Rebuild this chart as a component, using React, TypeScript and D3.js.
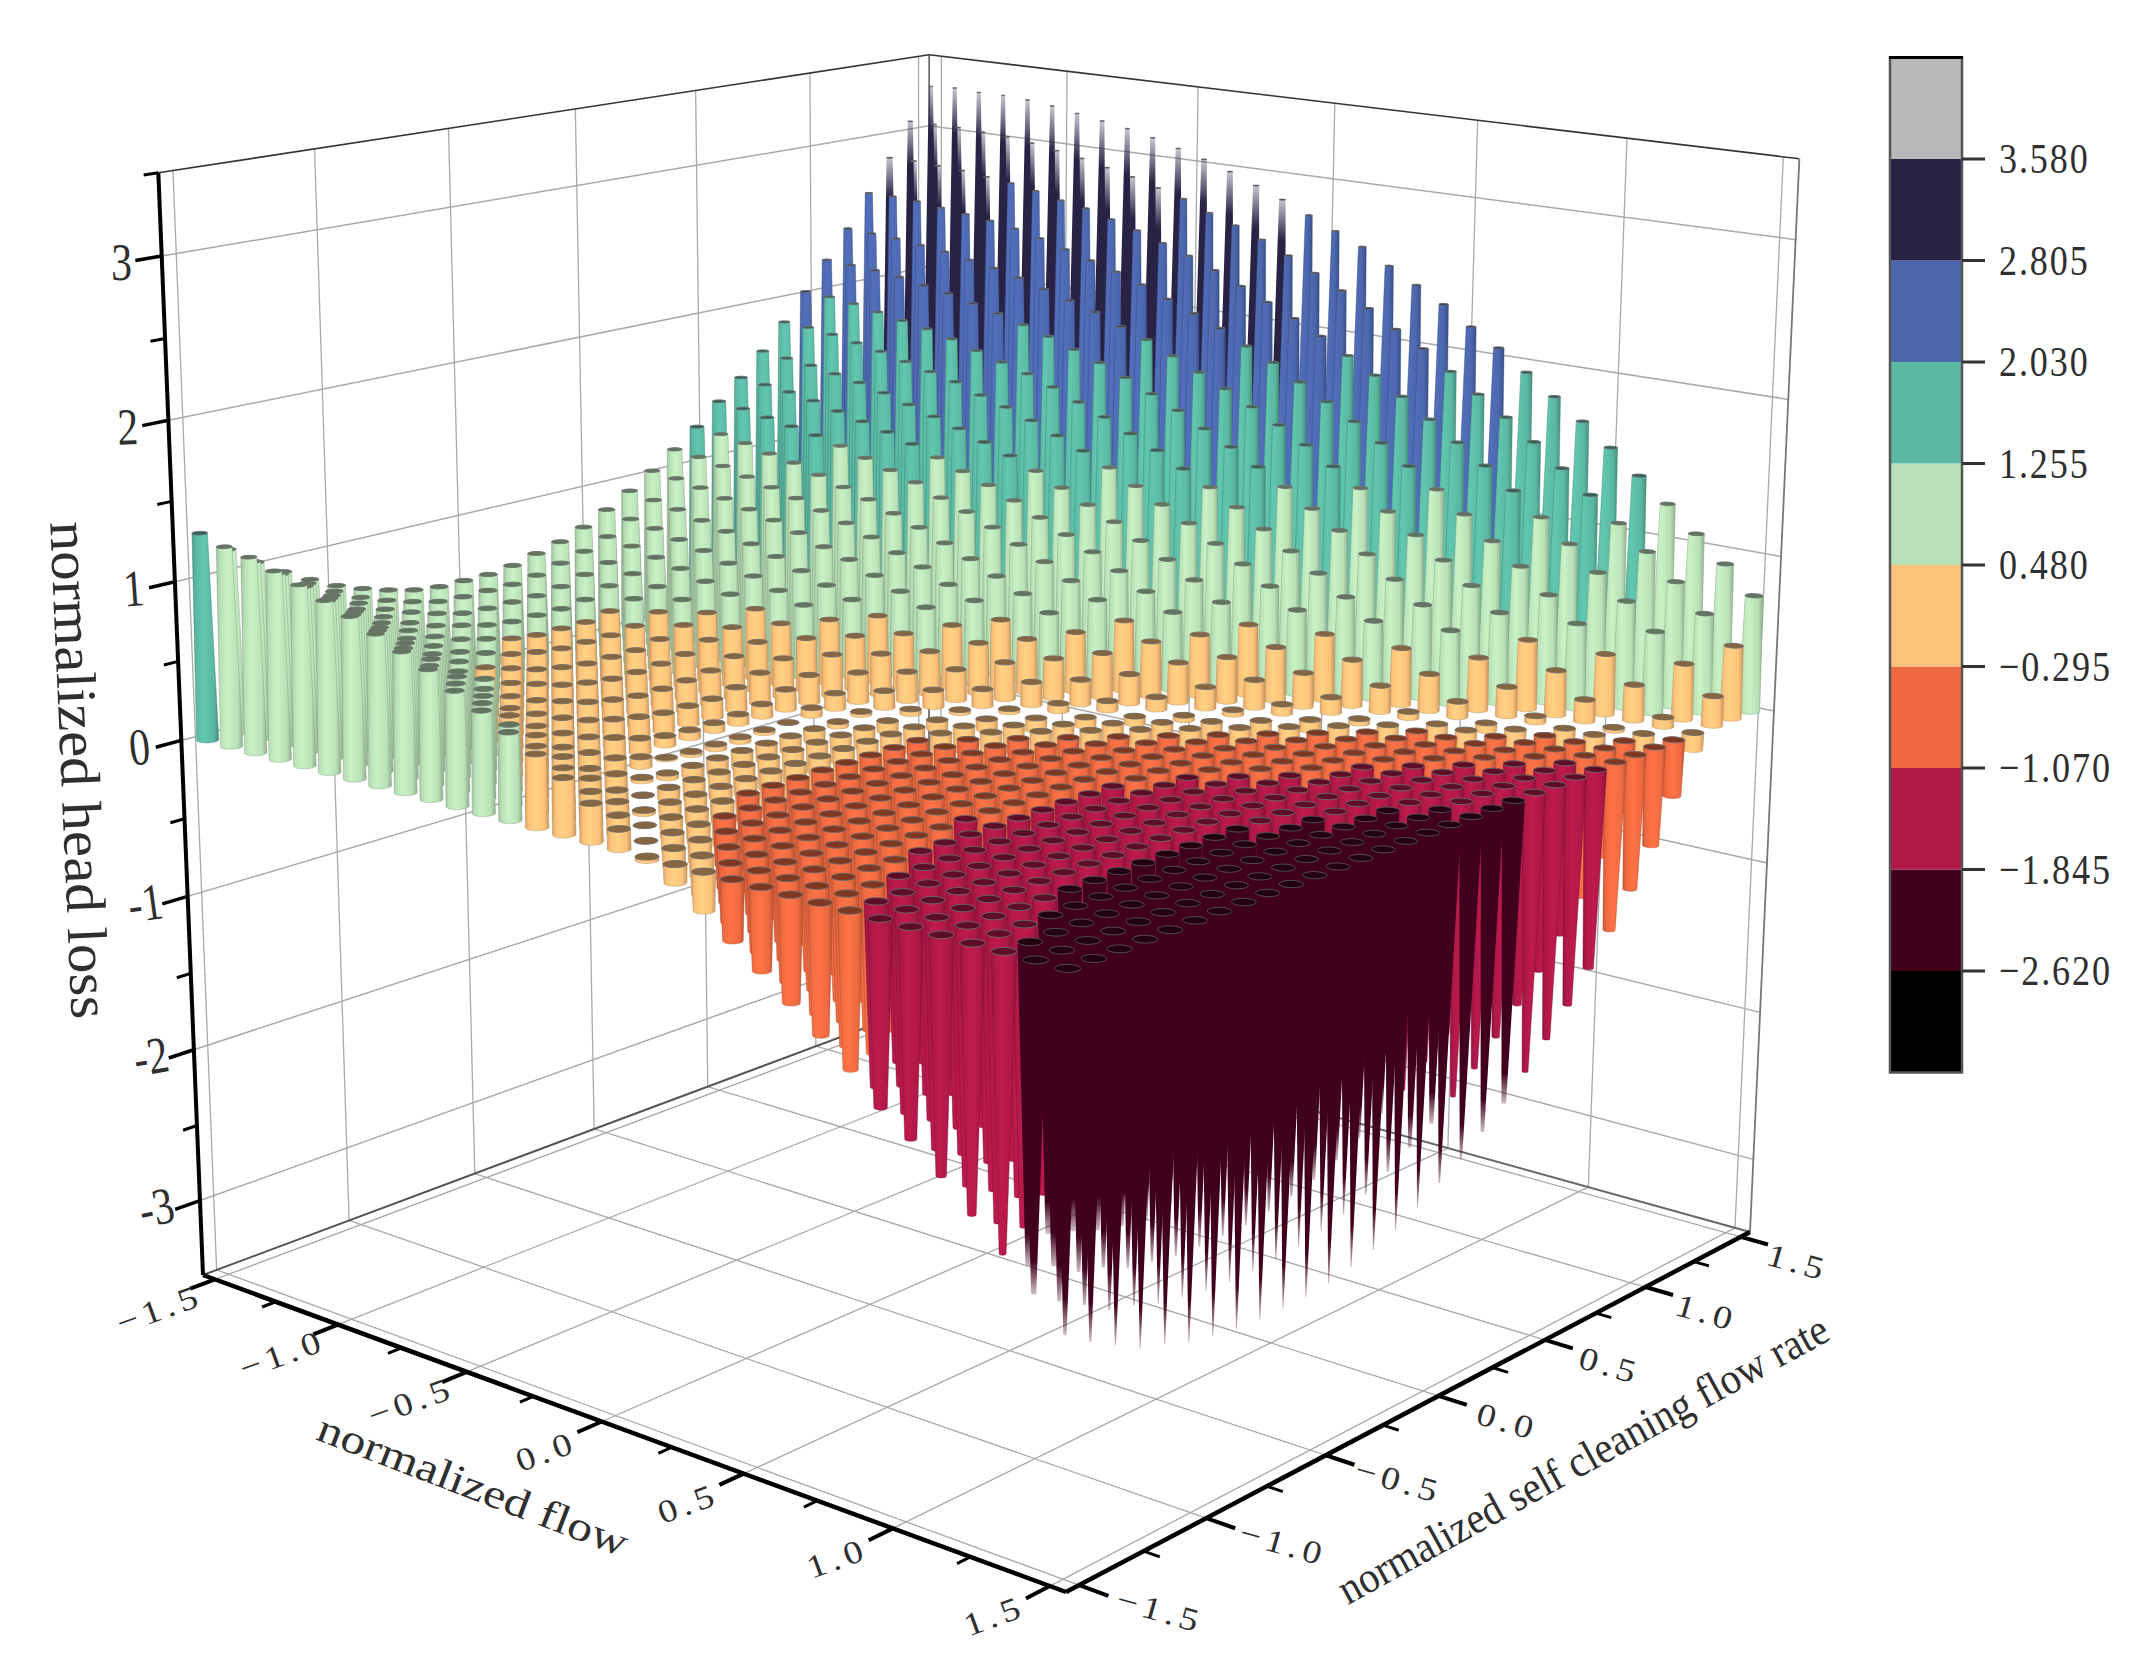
import React, { useEffect, useRef } from 'react';
import * as d3 from 'd3';

const contourLevels = [-2.62, -1.845, -1.07, -0.295, 0.48, 1.255, 2.03, 2.805, 3.58];
const contourLabels = ['−2.620', '−1.845', '−1.070', '−0.295', '0.480', '1.255', '2.030', '2.805', '3.580'];
const contourColors = ['#000000', '#40001c', '#b01848', '#ef6a41', '#fdc27a', '#b9e0b6', '#5ab8a3', '#4c67ae', '#292245', '#b9b9b9'];
const flowTicks = [-1.5, -1, -0.5, 0, 0.5, 1, 1.5];
const flowTickLabels = ['−1.5', '−1.0', '−0.5', '0.0', '0.5', '1.0', '1.5'];
const flowMinor = [-1.25, -0.75, -0.25, 0.25, 0.75, 1.25];
const lossTicks = [-3, -2, -1, 0, 1, 2, 3];
const lossTickLabels = ['-3', '-2', '-1', '0', '1', '2', '3'];
const lossMinor = [-2.5, -1.5, -0.5, 0.5, 1.5, 2.5, 3.5];

// head loss, one row per self cleaning flow step (-1.5 .. 1.5), one value per flow step (-1.5 .. 1.5)
const headLoss = [
  [1.30,1.25,1.22,1.17,1.12,1.06,1.00,.93,.86,.79,.70,.62,.53,.44,.34,.23,.12,-.02,-.11,-.23,-.36,-.49,-.63,-.77,-.92,-1.09,-1.22,-1.38,-1.55,-1.72,-1.89,-2.07],
  [1.16,1.12,1.08,1.03,.98,.93,.87,.80,.73,.66,.58,.49,.40,.31,.21,.11,.00,-.11,-.23,-.35,-.48,-.61,-.75,-.89,-1.08,-1.18,-1.34,-1.50,-1.66,-1.85,-2.00,-2.18],
  [1.04,1.00,.96,.92,.87,.81,.75,.69,.62,.54,.46,.38,.29,.20,.10,.00,-.11,-.22,-.33,-.46,-.58,-.71,-.85,-.99,-1.13,-1.28,-1.43,-1.59,-1.75,-1.92,-2.09,-2.27],
  [.94,.90,.86,.81,.76,.70,.64,.57,.50,.42,.35,.26,.17,.08,-.02,-.12,-.23,-.34,-.45,-.57,-.70,-.83,-.96,-1.10,-1.24,-1.39,-1.54,-1.69,-1.85,-2.02,-2.19,-2.36],
  [.85,.81,.77,.72,.67,.61,.55,.48,.41,.34,.26,.18,.09,.00,-.10,-.20,-.30,-.41,-.53,-.64,-.77,-.89,-1.02,-1.16,-1.30,-1.44,-1.59,-1.74,-1.90,-2.06,-2.23,-2.40],
  [.77,.73,.69,.64,.59,.53,.47,.41,.34,.27,.19,.10,.02,-.07,-.17,-.27,-.37,-.48,-.60,-.71,-.83,-.96,-1.09,-1.23,-1.36,-1.51,-1.66,-1.85,-1.96,-2.13,-2.29,-2.46],
  [.71,.67,.63,.58,.53,.48,.42,.36,.29,.21,.14,.06,-.03,-.12,-.22,-.31,-.42,-.52,-.64,-.75,-.87,-1.00,-1.13,-1.26,-1.40,-1.54,-1.69,-1.86,-2.00,-2.16,-2.32,-2.49],
  [.66,.62,.58,.54,.49,.43,.37,.31,.24,.17,.09,.01,-.07,-.16,-.26,-.36,-.46,-.56,-.68,-.79,-.91,-1.04,-1.16,-1.30,-1.44,-1.58,-1.72,-1.87,-2.03,-2.19,-2.35,-2.52],
  [.62,.58,.54,.50,.45,.40,.34,.28,.21,.14,.06,-.02,-.10,-.19,-.28,-.38,-.48,-.59,-.70,-.81,-.93,-1.08,-1.18,-1.32,-1.45,-1.59,-1.74,-1.89,-2.04,-2.20,-2.36,-2.53],
  [.60,.57,.53,.48,.43,.38,.32,.26,.19,.12,.05,-.03,-.11,-.20,-.29,-.39,-.49,-.60,-.71,-.82,-.94,-1.06,-1.19,-1.32,-1.46,-1.60,-1.74,-1.89,-2.04,-2.20,-2.36,-2.53],
  [.60,.57,.53,.48,.43,.38,.32,.26,.19,.12,.05,-.03,-.11,-.20,-.29,-.39,-.49,-.60,-.71,-.82,-.94,-1.06,-1.19,-1.32,-1.46,-1.60,-1.74,-1.89,-2.04,-2.20,-2.36,-2.53],
  [.60,.57,.53,.48,.43,.38,.32,.27,.20,.12,.06,-.02,-.10,-.19,-.28,-.38,-.48,-.59,-.70,-.81,-.93,-1.05,-1.17,-1.30,-1.44,-1.58,-1.72,-1.87,-2.02,-2.18,-2.34,-2.51],
  [.62,.59,.55,.50,.46,.40,.35,.29,.22,.15,.08,.00,-.08,-.17,-.26,-.36,-.46,-.56,-.67,-.78,-.90,-1.02,-1.15,-1.28,-1.41,-1.55,-1.70,-1.85,-2.00,-2.15,-2.31,-2.48],
  [.66,.63,.59,.55,.50,.45,.40,.34,.27,.20,.13,.05,-.03,-.12,-.21,-.30,-.40,-.51,-.62,-.73,-.85,-.97,-1.10,-1.23,-1.36,-1.50,-1.65,-1.80,-1.95,-2.11,-2.27,-2.44],
  [.70,.67,.63,.59,.54,.49,.44,.38,.32,.25,.18,.10,.02,-.07,-.16,-.25,-.35,-.46,-.57,-.68,-.80,-.92,-1.04,-1.17,-1.31,-1.45,-1.59,-1.74,-1.90,-2.05,-2.21,-2.38],
  [.76,.73,.70,.66,.62,.57,.52,.46,.40,.34,.27,.19,.11,.03,-.06,-.16,-.26,-.36,-.47,-.58,-.70,-.82,-.95,-1.08,-1.22,-1.36,-1.50,-1.65,-1.81,-1.97,-2.13,-2.30],
  [.84,.81,.78,.74,.70,.65,.60,.54,.48,.42,.35,.27,.19,.11,.02,-.07,-.17,-.28,-.38,-.50,-.61,-.73,-.86,-.99,-1.13,-1.27,-1.41,-1.56,-1.72,-1.88,-2.04,-2.21],
  [.93,.90,.87,.83,.79,.74,.69,.63,.57,.51,.44,.36,.28,.20,.11,.02,-.08,-.19,-.29,-.41,-.52,-.64,-.77,-.90,-1.04,-1.18,-1.32,-1.47,-1.63,-1.79,-1.95,-2.12],
  [1.03,1.01,.98,.94,.90,.86,.81,.75,.70,.63,.56,.49,.41,.33,.24,.15,.05,-.06,-.16,-.28,-.39,-.52,-.64,-.78,-.91,-1.06,-1.20,-1.36,-1.51,-1.67,-1.84,-2.01],
  [1.14,1.12,1.09,1.05,1.01,.97,.92,.87,.81,.74,.68,.60,.53,.44,.35,.26,.16,.06,-.05,-.16,-.28,-.40,-.52,-.66,-.79,-.94,-1.08,-1.23,-1.39,-1.55,-1.72,-1.89],
  [1.26,1.24,1.21,1.17,1.14,1.09,1.04,.99,.93,.87,.80,.73,.65,.57,.48,.39,.29,.19,.08,-.03,-.14,-.27,-.39,-.52,-.66,-.80,-.95,-1.10,-1.25,-1.41,-1.58,-1.75],
  [1.40,1.38,1.35,1.32,1.29,1.25,1.20,1.15,1.10,1.03,.97,.90,.82,.74,.65,.56,.46,.36,.26,.14,.03,-.10,-.22,-.35,-.50,-.64,-.79,-.94,-1.10,-1.26,-1.43,-1.60],
  [1.53,1.51,1.49,1.46,1.42,1.38,1.34,1.29,1.23,1.17,1.11,1.04,.96,.88,.80,.71,.61,.51,.40,.29,.18,.06,-.07,-.20,-.34,-.48,-.63,-.78,-.94,-1.10,-1.27,-1.44],
  [1.68,1.66,1.64,1.61,1.58,1.54,1.49,1.44,1.39,1.33,1.27,1.20,1.12,1.04,.96,.87,.78,.68,.57,.46,.35,.22,.10,-.03,-.17,-.31,-.46,-.61,-.76,-.92,-1.09,-1.26],
  [1.85,1.84,1.82,1.79,1.76,1.72,1.68,1.64,1.58,1.53,1.47,1.40,1.33,1.25,1.16,1.07,.98,.88,.78,.67,.55,.43,.30,.17,.04,-.11,-.25,-.41,-.57,-.73,-.90,-1.07],
  [2.03,2.02,2.00,1.97,1.94,1.91,1.87,1.82,1.77,1.72,1.66,1.59,1.52,1.44,1.36,1.27,1.18,1.08,.97,.86,.75,.63,.51,.37,.24,.10,-.05,-.20,-.36,-.52,-.69,-.86],
  [2.22,2.21,2.20,2.18,2.15,2.12,2.08,2.04,1.99,1.94,1.88,1.82,1.75,1.67,1.59,1.50,1.41,1.31,1.21,1.10,.99,.87,.74,.61,.48,.34,.19,.04,-.12,-.29,-.45,-.63],
  [2.41,2.40,2.39,2.37,2.35,2.32,2.29,2.25,2.20,2.15,2.10,2.03,1.97,1.89,1.81,1.73,1.64,1.55,1.45,1.34,1.23,1.11,.99,.86,.73,.59,.45,.29,.14,-.02,-.19,-.36],
  [2.63,2.63,2.62,2.60,2.58,2.56,2.53,2.49,2.44,2.39,2.34,2.28,2.21,2.14,2.07,1.98,1.90,1.80,1.70,1.60,1.49,1.37,1.25,1.12,.98,.85,.70,.55,.39,.23,.06,-.11],
  [2.85,2.85,2.84,2.83,2.81,2.79,2.76,2.72,2.69,2.64,2.59,2.53,2.47,2.40,2.32,2.24,2.16,2.07,1.97,1.87,1.76,1.64,1.52,1.40,1.27,1.13,.99,.84,.69,.53,.36,.19],
  [3.08,3.08,3.08,3.07,3.06,3.04,3.01,2.98,2.94,2.90,2.85,2.80,2.73,2.67,2.60,2.52,2.43,2.34,2.25,2.14,2.04,1.92,1.80,1.68,1.55,1.41,1.27,1.12,.97,.81,.64,.47],
  [3.30,3.31,3.30,3.30,3.29,3.27,3.24,3.21,3.18,3.14,3.09,3.04,2.98,2.91,2.84,2.76,2.68,2.60,2.50,2.40,2.30,2.18,2.07,1.94,1.81,1.68,1.54,1.39,1.24,1.08,.92,.75],
];

// where the box corners fall on the page
const floorCorners = [[203, 1275], [1066, 1592], [1750, 1232], [929, 1004]]; // left, front, right, back
const topCorners = [[159, 178], [928, 51], [1800, 158]]; // left, back, right
const boxXY = 1.55;
const boxZ = 3.5;
const barRadius = 0.03;
const serif = '"Liberation Serif", serif';
const inkColor = '#2f2f2f';

function makeProjection() {
  const [[x0, y0], [x1, y1], [x2, y2], [x3, y3]] = floorCorners;
  const dx1 = x1 - x2, dx2 = x3 - x2, sx = x0 - x1 + x2 - x3;
  const dy1 = y1 - y2, dy2 = y3 - y2, sy = y0 - y1 + y2 - y3;
  const den = dx1 * dy2 - dx2 * dy1;
  const g = (sx * dy2 - dx2 * sy) / den;
  const h = (dx1 * sy - sx * dy1) / den;
  const a = x1 - x0 + g * x1, b = x3 - x0 + h * x3, c = x0;
  const d = y1 - y0 + g * y1, e = y3 - y0 + h * y3, f = y0;
  const Dr = g + h + 1;
  const [tl, tb, tr] = topCorners;
  // vertical column of the camera matrix, from the three top corners
  const r = (x0 - x2 * Dr - tl[0] + tr[0] * Dr) / (tl[0] - tr[0]);
  const p = d3.mean([
    tl[0] * (1 + r) - x0,
    tb[0] * (h + 1 + r) - (b + c),
    tr[0] * (Dr + r) - (a + b + c),
  ])!;
  const q = d3.mean([
    tl[1] * (1 + r) - y0,
    tb[1] * (h + 1 + r) - (e + f),
    tr[1] * (Dr + r) - (d + e + f),
  ])!;
  const sScale = d3.scaleLinear().domain([-boxXY, boxXY]).range([0, 1]);
  const wScale = d3.scaleLinear().domain([-boxZ, boxZ]).range([0, 1]);
  return (x: number, y: number, z: number): [number, number] => {
    const s = sScale(x), t = sScale(y), w = wScale(z);
    const dn = g * s + h * t + 1 + r * w;
    return [(a * s + b * t + c + p * w) / dn, (d * s + e * t + f + q * w) / dn];
  };
}

export default function App() {
  const svgRef = useRef<SVGSVGElement>(null);

  useEffect(() => {
    if (!svgRef.current) return;
    const svg = d3.select(svgRef.current);
    svg.selectAll('*').remove();

    const project = makeProjection();
    const color = d3.scaleThreshold<number, string>().domain(contourLevels).range(contourColors);
    const gridStep = d3.scaleLinear().domain([0, headLoss.length - 1]).range([-1.5, 1.5]);

    // shading for the cylinders
    const defs = svg.append('defs');
    contourColors.forEach((c, k) => {
      const base = d3.color(c)!;
      const side = defs.append('linearGradient').attr('id', `side-${k}`);
      side.append('stop').attr('offset', 0).attr('stop-color', base.darker(0.45).formatHex());
      side.append('stop').attr('offset', 0.15).attr('stop-color', c);
      side.append('stop').attr('offset', 0.42).attr('stop-color', base.brighter(0.22).formatHex());
      side.append('stop').attr('offset', 0.8).attr('stop-color', c);
      side.append('stop').attr('offset', 1).attr('stop-color', base.darker(0.7).formatHex());
      const fade = defs.append('linearGradient').attr('id', `fade-${k}`).attr('x1', 0).attr('x2', 0).attr('y1', k < 5 ? 0 : 1).attr('y2', k < 5 ? 1 : 0);
      fade.append('stop').attr('offset', 0).attr('stop-color', c);
      fade.append('stop').attr('offset', 0.9).attr('stop-color', c);
      fade.append('stop').attr('offset', 1).attr('stop-color', c).attr('stop-opacity', 0.25);
    });

    const seg = (g: any, a: [number, number], b: [number, number], stroke: string, width: number) =>
      g.append('line').attr('x1', a[0]).attr('y1', a[1]).attr('x2', b[0]).attr('y2', b[1])
        .attr('stroke', stroke).attr('stroke-width', width);

    // walls and floor
    const grid = svg.append('g');
    const bz = boxZ, bx = boxXY;
    flowTicks.forEach(v => {
      seg(grid, project(-bx, v, -bz), project(-bx, v, bz), '#a9a9a9', 1.3);
      seg(grid, project(v, bx, -bz), project(v, bx, bz), '#a9a9a9', 1.3);
      seg(grid, project(-bx, v, -bz), project(bx, v, -bz), '#a9a9a9', 1.3);
      seg(grid, project(v, -bx, -bz), project(v, bx, -bz), '#a9a9a9', 1.3);
    });
    lossTicks.forEach(v => {
      seg(grid, project(-bx, -bx, v), project(-bx, bx, v), '#a9a9a9', 1.5);
      seg(grid, project(-bx, bx, v), project(bx, bx, v), '#a9a9a9', 1.5);
    });
    seg(grid, project(-bx, -bx, bz), project(-bx, bx, bz), '#333', 1.6);
    seg(grid, project(-bx, bx, bz), project(bx, bx, bz), '#333', 1.6);
    seg(grid, project(-bx, bx, -bz), project(-bx, bx, bz), '#444', 1.4);
    seg(grid, project(bx, bx, -bz), project(bx, bx, bz), '#777', 1.8);
    seg(grid, project(-bx, -bx, -bz), project(-bx, bx, -bz), '#555', 2);
    seg(grid, project(-bx, bx, -bz), project(bx, bx, -bz), '#666', 2);

    // one cylinder per grid point, far ones first
    const bars = headLoss
      .flatMap((row, j) => row.map((value, i) => ({ i, j, value, x: gridStep(i), y: gridStep(j) })))
      .sort((m, n) => (m.i - m.j) - (n.i - n.j));
    const angles = d3.range(18).map(k => (k / 18) * 2 * Math.PI);
    const ring = (x: number, y: number, z: number, rad: number) =>
      angles.map(t => project(x + rad * Math.cos(t), y + rad * Math.sin(t), z));
    const taper = (z: number) => Math.max(0.04, z > 0 ? 1 - 0.24 * z : 1 + 0.42 * z);
    const closed = d3.line().curve(d3.curveLinearClosed);

    const barLayer = svg.append('g');
    bars.forEach(bar => {
      const level = contourColors.indexOf(color(bar.value));
      const c = d3.color(contourColors[level])!;
      const end = ring(bar.x, bar.y, bar.value, barRadius * taper(bar.value));
      const zero = ring(bar.x, bar.y, 0, barRadius);
      const hull = d3.polygonHull([...end, ...zero])!;
      const fill = level <= 1 || level >= 8 ? `url(#fade-${level})` : `url(#side-${level})`;
      barLayer.append('path').attr('d', closed(hull)!).attr('fill', fill);
      if (level > 1 && level < 8) {
        barLayer.append('path').attr('d', closed(hull)!).attr('fill', 'none')
          .attr('stroke', c.darker(1).formatHex()).attr('stroke-width', 0.7).attr('stroke-opacity', 0.6);
      }
      barLayer.append('path')
        .attr('d', closed(bar.value > 0 ? end : zero)!)
        .attr('fill', c.darker(1.8).formatHex())
        .attr('stroke', level <= 1 ? '#555' : '#6d6d6d')
        .attr('stroke-width', 0.9);
    });

    // axes
    const axes = svg.append('g');
    seg(axes, project(-bx, -bx, -bz), project(-bx, -bx, bz), '#000', 4);
    seg(axes, project(-bx, -bx, -bz), project(bx, -bx, -bz), '#000', 4.5);
    seg(axes, project(bx, -bx, -bz), project(bx, bx, -bz), '#000', 4.5);
    flowTicks.forEach(v => {
      seg(axes, project(v, -bx, -bz), project(v, -bx - 0.09, -bz), '#000', 4);
      seg(axes, project(bx, v, -bz), project(bx + 0.09, v, -bz), '#000', 4);
    });
    flowMinor.forEach(v => {
      seg(axes, project(v, -bx, -bz), project(v, -bx - 0.05, -bz), '#000', 3);
      seg(axes, project(bx, v, -bz), project(bx + 0.05, v, -bz), '#000', 3);
    });
    lossTicks.forEach(v => seg(axes, project(-bx, -bx, v), project(-bx, -bx - 0.09, v), '#000', 3.5));
    lossMinor.forEach(v => seg(axes, project(-bx, -bx, v), project(-bx, -bx - 0.05, v), '#000', 3));

    const label = (text: string, x: number, y: number, size: number, transform: string, spacing = 0) =>
      svg.append('text').text(text)
        .attr('transform', `translate(${x},${y}) ${transform}`)
        .attr('text-anchor', 'middle')
        .attr('font-family', serif).attr('font-size', size).attr('letter-spacing', spacing)
        .attr('fill', inkColor);

    flowTicks.forEach((v, k) => {
      const [px, py] = project(v, -bx, -bz);
      label(flowTickLabels[k], px - 52, py + 40, 38, 'rotate(-20) scale(1,0.85)', 5);
      const [qx, qy] = project(bx, v, -bz);
      label(flowTickLabels[k], qx + 54 + (1.5 - v) * 8, qy + 36, 38, 'rotate(16) scale(1,0.85)', 5);
    });
    lossTicks.forEach((v, k) => {
      const [px, py] = project(-bx, -bx, v);
      label(lossTickLabels[k], px - 40, py + 24, 52, `rotate(${-6 + 2 * v}) scale(0.8,1)`);
    });

    label('normalized head loss', 61, 771, 59, 'rotate(87.5) scale(1,0.95)');
    label('normalized flow', 468, 1498, 50, 'rotate(21) scale(1,0.82)');
    label('normalized self cleaning flow rate', 1590, 1472, 44, 'rotate(-28.8) scale(0.92,1)');

    // colour scale
    const barY = d3.scaleLinear().domain([-2.62, 3.58]).range([971, 159]);
    const scaleGroup = svg.append('g');
    const edges = [-3.395, ...contourLevels, 4.355];
    contourColors.forEach((c, k) => {
      scaleGroup.append('rect')
        .attr('x', 1890).attr('width', 72)
        .attr('y', barY(edges[k + 1])).attr('height', barY(edges[k]) - barY(edges[k + 1]))
        .attr('fill', c);
    });
    scaleGroup.append('rect').attr('x', 1890).attr('y', barY(4.355)).attr('width', 72)
      .attr('height', barY(-3.395) - barY(4.355)).attr('fill', 'none').attr('stroke', '#555').attr('stroke-width', 2.5);
    seg(scaleGroup, [1889, barY(4.355)], [1963, barY(4.355)], '#000', 3);
    contourLevels.forEach((v, k) => {
      seg(scaleGroup, [1962, barY(v)], [1985, barY(v)], '#333', 3);
      scaleGroup.append('text').text(contourLabels[k])
        .attr('transform', `translate(1999,${barY(v) + 14}) scale(0.95,1.12)`)
        .attr('font-family', serif).attr('font-size', 38).attr('letter-spacing', 2)
        .attr('fill', inkColor);
    });
  }, []);

  return (
    <svg
      ref={svgRef}
      width={2148}
      height={1665}
      style={{ position: 'absolute', left: 0, top: 0, display: 'block', background: '#fff' }}
    />
  );
}
